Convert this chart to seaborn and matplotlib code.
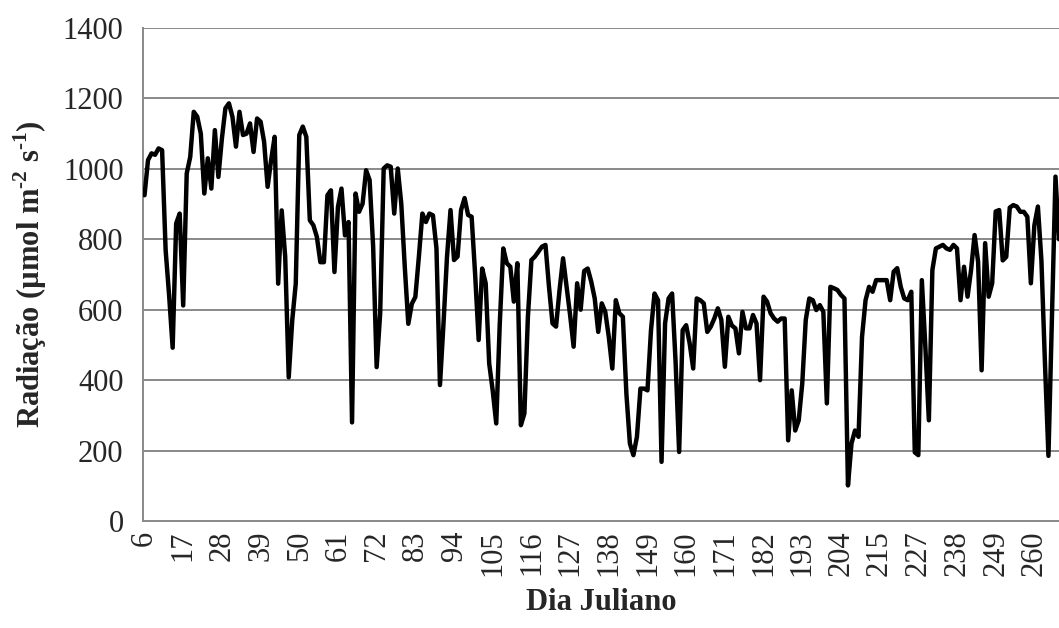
import matplotlib
matplotlib.use("Agg")
import matplotlib.pyplot as plt
import seaborn as sns
import numpy as np
import pandas as pd
from matplotlib.ticker import FixedLocator

# Julian days (categories); one day (221) is absent from the record
dias = list(range(6, 221)) + list(range(222, 268))

# Radiation values (µmol m-2 s-1), one per category
radiacao = [
    925, 1025, 1044, 1040, 1058, 1053, 770, 640, 492, 845,
    873, 612, 987, 1034, 1162, 1148, 1100, 930, 1030, 944,
    1110, 977, 1086, 1172, 1186, 1148, 1063, 1162, 1096, 1100,
    1129, 1048, 1143, 1134, 1077, 949, 1025, 1091, 674, 882,
    750, 408, 570, 674, 1096, 1120, 1091, 854, 840, 807,
    735, 735, 925, 939, 707, 892, 944, 811, 849, 280,
    930, 878, 901, 996, 968, 780, 437, 590, 1001, 1010,
    1006, 873, 1001, 901, 721, 560, 617, 636, 750, 873,
    849, 873, 868, 775, 386, 560, 750, 883, 741, 751,
    883, 917, 869, 864, 700, 514, 717, 675, 447, 370,
    277, 560, 774, 732, 722, 623, 732, 272, 305, 580,
    741, 751, 765, 779, 784, 665, 561, 552, 656, 746,
    665, 585, 495, 675, 600, 710, 717, 680, 632, 537,
    618, 594, 523, 433, 627, 590, 580, 362, 220, 187,
    239, 376, 376, 371, 542, 646, 627, 168, 561, 632,
    646, 450, 196, 542, 556, 504, 433, 632, 627, 618,
    537, 552, 575, 604, 571, 438, 580, 555, 547, 476,
    594, 547, 547, 585, 561, 400, 637, 623, 590, 575,
    566, 575, 575, 229, 371, 257, 286, 390, 571, 632,
    627, 599, 613, 594, 334, 665, 661, 656, 642, 632,
    101, 220, 257, 239, 523, 627, 665, 651, 684, 684,
    684, 684, 627, 708, 718, 665, 632, 627, 651, 195,
    187, 684, 495, 286, 713, 774, 779, 784, 774, 770,
    784, 774, 627, 722, 637, 713, 812, 736, 428, 789,
    637, 675, 879, 883, 740, 750, 890, 897, 893, 878,
    878, 864, 675, 840, 893, 740, 450, 185, 580, 978,
    800,
]

y_ticks = [0, 200, 400, 600, 800, 1000, 1200, 1400]
label_step = 11

n = min(len(dias), len(radiacao))
df = pd.DataFrame({"pos": np.arange(n), "dia": dias[:n], "rad": radiacao[:n]})

sns.set_style("white")
plt.rcParams["font.family"] = ["Liberation Serif", "DejaVu Serif"]
plt.rcParams["mathtext.fontset"] = "custom"
plt.rcParams["mathtext.rm"] = "Liberation Serif"
plt.rcParams["mathtext.bf"] = "Liberation Serif:bold"

W, H = 1059, 628
fig = plt.figure(figsize=(W / 100, H / 100), dpi=100)
ax = fig.add_axes([143 / W, (H - 521) / H, (W - 143) / W, (521 - 28) / H])

grid_c = "#898989"
for v in y_ticks[1:]:
    ax.axhline(v, color=grid_c, linewidth=1.4, zorder=1)

sns.lineplot(data=df, x="pos", y="rad", color="black", linewidth=3.2,
             ax=ax, zorder=3, legend=False)
for ln in ax.lines:
    if ln.get_color() == "black":
        ln.set_solid_joinstyle("round")
        ln.set_solid_capstyle("round")

ax.set_xlim(-0.43, 260.0)
ax.set_ylim(0, 1400)

for s in ["top", "right"]:
    ax.spines[s].set_visible(False)
for s in ["left", "bottom"]:
    ax.spines[s].set_color(grid_c)
    ax.spines[s].set_linewidth(1.4)

ax.set_yticks(y_ticks)
ax.set_yticklabels([str(v) for v in y_ticks])
ax.tick_params(axis="y", direction="out", length=5, width=1.2, color=grid_c,
               labelsize=22, pad=9)

major = list(range(0, n, label_step))
ax.xaxis.set_major_locator(FixedLocator(major))
ax.set_xticklabels([str(df["dia"][i]) for i in major], rotation=90)
ax.xaxis.set_minor_locator(FixedLocator(np.arange(-0.5, n + 0.5, 1.0)))
ax.tick_params(axis="x", which="major", length=0, labelsize=22, pad=7)
ax.tick_params(axis="x", which="minor", direction="out", length=6, width=1.0,
               color=grid_c)

ax.set_xlabel("Dia Juliano", fontsize=22, fontweight="bold", labelpad=8)
ax.set_ylabel(r"Radiação (µmol m$^{\mathbf{\text{-}2}}$ s$^{\mathbf{\text{-}1}}$)",
              fontsize=22, fontweight="bold", labelpad=10)
ax.grid(False)

fig.savefig("out.png", dpi=100)
